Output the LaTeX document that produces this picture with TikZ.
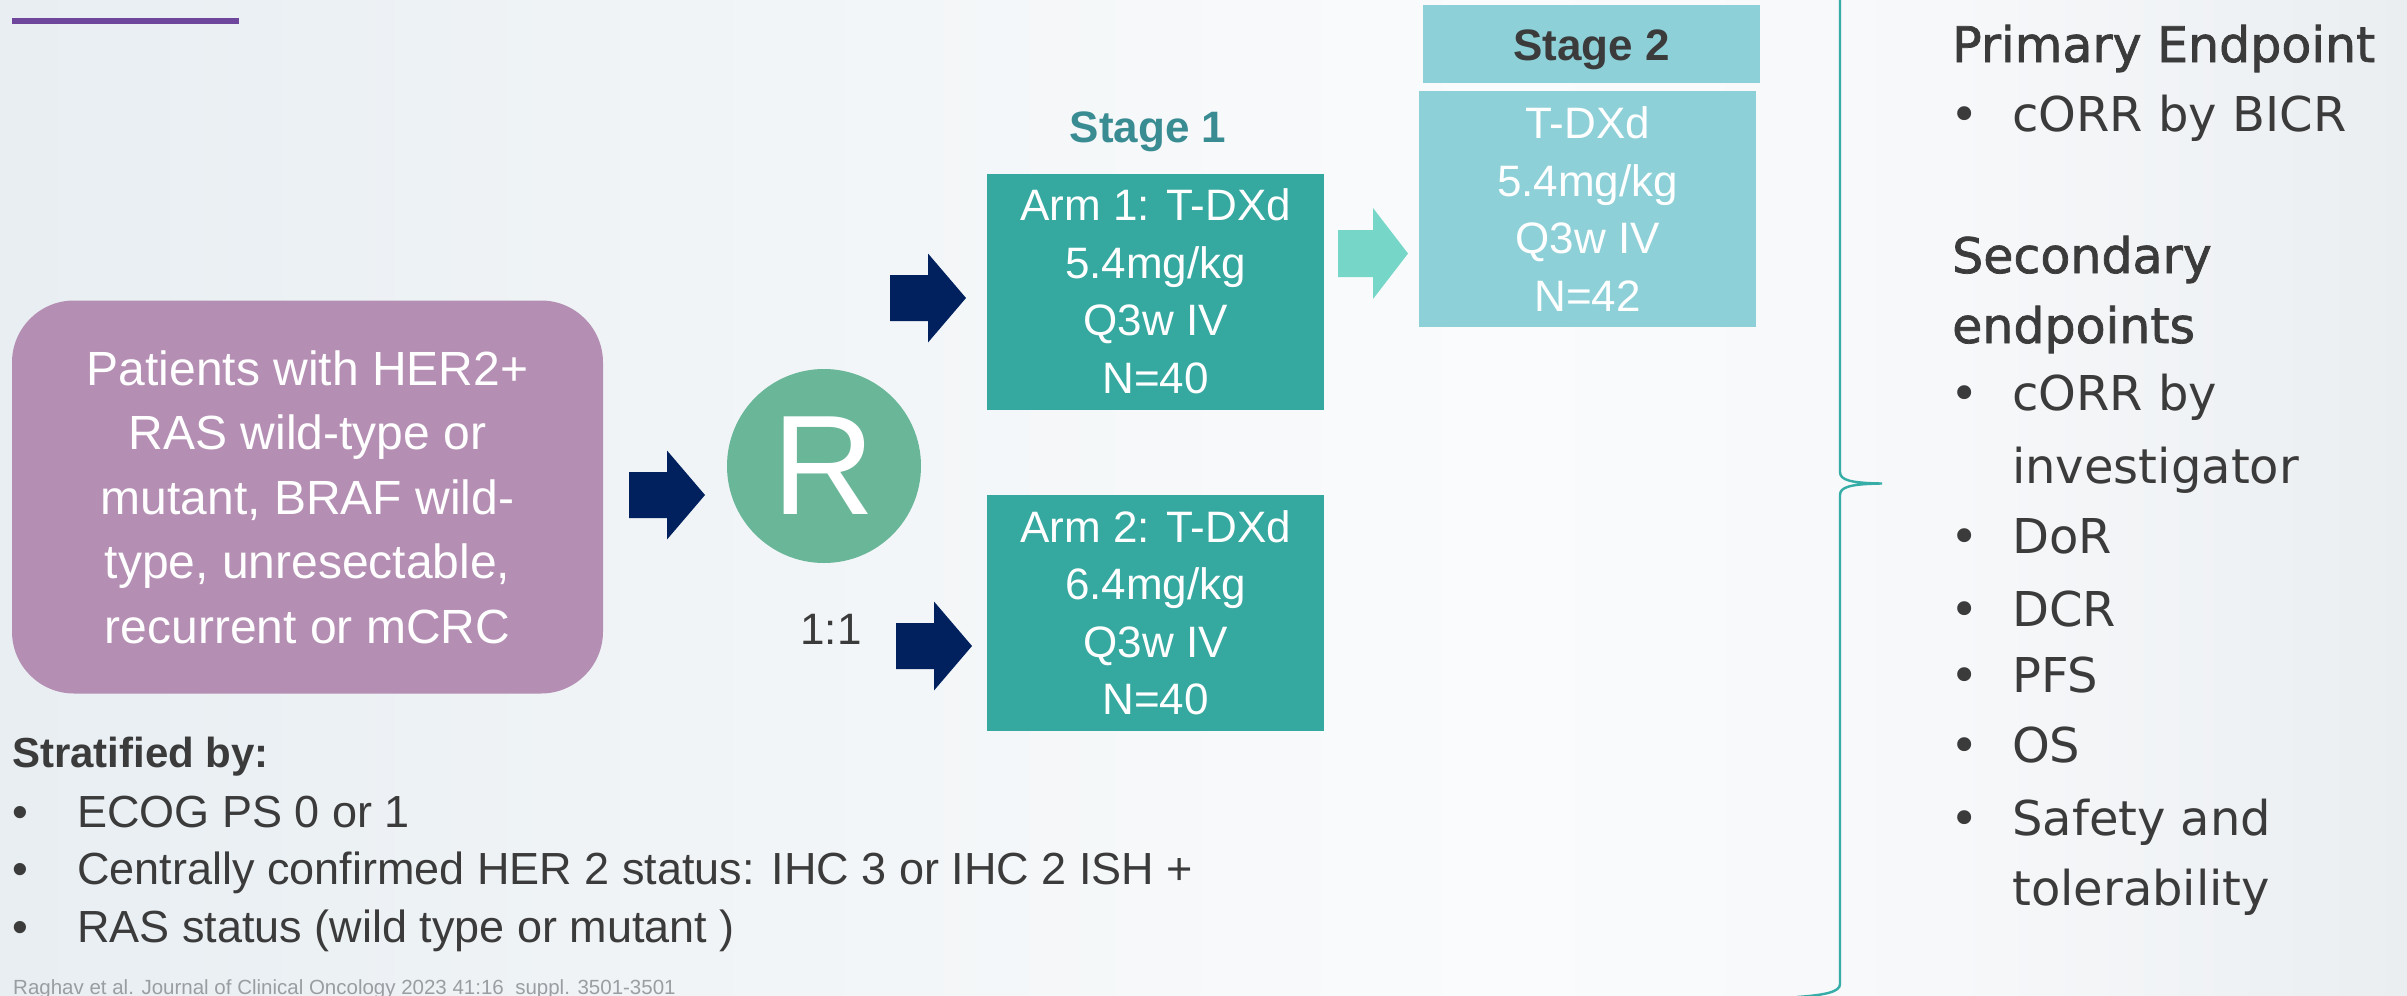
\documentclass[tikz,border=0pt]{standalone}
\usepackage{fontspec}
\setmainfont{Liberation Sans}
\newfontfamily\rfont{DejaVu Sans}
\newfontfamily\rfontb[FakeBold=1.5]{DejaVu Sans}
\definecolor{bgA}{HTML}{E8EEF2}
\definecolor{bgB}{HTML}{F3F6F8}
\definecolor{bgC}{HTML}{FAFBFC}
\definecolor{bgD}{HTML}{F7F8FA}
\definecolor{bgE}{HTML}{EAEEF1}
\definecolor{purpleline}{HTML}{6E479D}
\definecolor{purplebox}{HTML}{B48EB3}
\definecolor{navyc}{HTML}{00205E}
\definecolor{rgreen}{HTML}{69B698}
\definecolor{armteal}{HTML}{35A8A0}
\definecolor{stagetwo}{HTML}{8ED0D8}
\definecolor{lightarrow}{HTML}{76D7C8}
\definecolor{stageone}{HTML}{3A8C93}
\definecolor{darktext}{HTML}{3B3B3B}
\definecolor{bracec}{HTML}{36ADA6}
\definecolor{citec}{HTML}{9A9EA2}
\newcommand\myfs[2]{\fontsize{#1}{#2}\selectfont}
\begin{document}
\begin{tikzpicture}[x=1pt,y=-1pt,
  armbox/.style={fill=armteal, text=white, minimum width=337pt, minimum height=236pt, inner sep=0pt, align=center, font=\myfs{44}{57.5}},
  s2box/.style={fill=stagetwo, text=white, minimum width=337pt, minimum height=236pt, inner sep=0pt, align=center, font=\myfs{44}{57.5}},
  lefttext/.style={anchor=base west, inner sep=0pt, text=darktext, font=\myfs{45}{50}},
  righttext/.style={anchor=base west, inner sep=0pt, text=darktext, font=\rfont\myfs{48}{56}},
  rhead/.style={anchor=base west, inner sep=0pt, text=darktext, font=\rfontb\myfs{49}{56}},
  pics/blockarrow/.style={code={\fill[#1] (0,-23) -- (38,-23) -- (38,-44.5) -- (76,0) -- (38,44.5) -- (38,23) -- (0,23) -- cycle;}},
  pics/lightblockarrow/.style={code={\fill[#1] (0,-23.5) -- (35,-23.5) -- (35,-45.5) -- (70,0) -- (35,45.5) -- (35,23.5) -- (0,23.5) -- cycle;}}
]
\useasboundingbox (0,0) rectangle (2407,996);
% background gradient
\shade[left color=bgA, right color=bgB] (0,0) rectangle (901,996);
\shade[left color=bgB, right color=bgC] (900,0) rectangle (1501,996);
\shade[left color=bgC, right color=bgD] (1500,0) rectangle (1951,996);
\shade[left color=bgD, right color=bgE] (1950,0) rectangle (2407,996);

% top purple rule
\fill[purpleline] (12,18) rectangle (239,24);

% patients box
\node[fill=purplebox, rounded corners=62pt, minimum width=591pt, minimum height=393pt, inner sep=0pt, text=white, align=center, font=\myfs{48}{64.5}] (pat) at (307.5,497)
  {Patients with HER2+\\RAS wild-type or\\mutant, BRAF wild-\\type, unresectable,\\recurrent or mCRC};

% arrow to R
\pic at (629,495) {blockarrow=navyc};

% R circle
\node[circle, fill=rgreen, minimum size=194pt, inner sep=0pt, text=white, font=\myfs{142}{142}] (R) at (824,466) {R};
\node[text=darktext, font=\myfs{44}{50}, inner sep=0pt] (ratio) at (831,629) {1:1};

% arms
\node[text=stageone, font=\bfseries\myfs{44}{50}, inner sep=0pt] (st1) at (1148,132) {Stage 1};
\node[armbox] (arm1) at (1155.5,291.5) {Arm 1: T-DXd\\5.4mg/kg\\Q3w IV\\N=40};
\node[armbox] (arm2) at (1155.5,613) {Arm 2: T-DXd\\6.4mg/kg\\Q3w IV\\N=40};
\pic at (890,298) {blockarrow=navyc};
\pic at (896,646) {blockarrow=navyc};

% stage 2
\node[fill=stagetwo, minimum width=337pt, minimum height=78pt, inner sep=0pt] (st2) at (1591.5,44) {};
\node[text=darktext, font=\bfseries\myfs{44}{50}, inner sep=0pt, anchor=base] (st2t) at (1591.5,60) {Stage 2};
\node[s2box] (s2) at (1587.5,209) {T-DXd\\5.4mg/kg\\Q3w IV\\N=42};
\pic at (1338,253.5) {lightblockarrow=lightarrow};

% stratification
\node[lefttext, font=\bfseries\myfs{42}{50}] (strat) at (12,767) {Stratified by:};
\node[lefttext] (b1) at (12,827) {\textbullet};
\node[lefttext] (s1) at (77,827) {ECOG PS 0 or 1};
\node[lefttext] (b2) at (12,884) {\textbullet};
\node[lefttext] (s2t) at (77,884) {Centrally confirmed HER 2 status: IHC 3 or IHC 2 ISH +};
\node[lefttext] (b3) at (12,942) {\textbullet};
\node[lefttext] (s3) at (77,942) {RAS status (wild type or mutant )};
\node[anchor=base west, inner sep=0pt, text=citec, font=\myfs{20.5}{22}] (cite) at (13,994) {Raghav et al. Journal of Clinical Oncology 2023 41:16\_suppl. 3501-3501};

% brace
\draw[bracec, line width=2.4pt] (1840,-5) -- (1840,472)
  .. controls (1840,480) and (1850,483) .. (1882,483.5)
  .. controls (1850,484) and (1840,487) .. (1840,495)
  -- (1840,984) .. controls (1840,992) and (1825,995) .. (1797,997);

% endpoints
\node[rhead] (pe) at (1952,62) {Primary Endpoint};
\node[righttext] (rb1) at (1950,131) {\textbullet};
\node[righttext] (r1) at (2012,131) {cORR by BICR};
\node[rhead] (se1) at (1952,273) {Secondary};
\node[rhead] (se2) at (1952,343) {endpoints};
\node[righttext] (rb2) at (1950,410) {\textbullet};
\node[righttext] (r2a) at (2012,410) {cORR by};
\node[righttext] (r2b) at (2012,483) {investigator};
\node[righttext] (rb3) at (1950,553) {\textbullet};
\node[righttext] (r3) at (2012,553) {DoR};
\node[righttext] (rb4) at (1950,626) {\textbullet};
\node[righttext] (r4) at (2012,626) {DCR};
\node[righttext] (rb5) at (1950,692) {\textbullet};
\node[righttext] (r5) at (2012,692) {PFS};
\node[righttext] (rb6) at (1950,762) {\textbullet};
\node[righttext] (r6) at (2012,762) {OS};
\node[righttext] (rb7) at (1950,835) {\textbullet};
\node[righttext] (r7a) at (2012,835) {Safety and};
\node[righttext] (r7b) at (2012,905) {tolerability};
\end{tikzpicture}
\end{document}
